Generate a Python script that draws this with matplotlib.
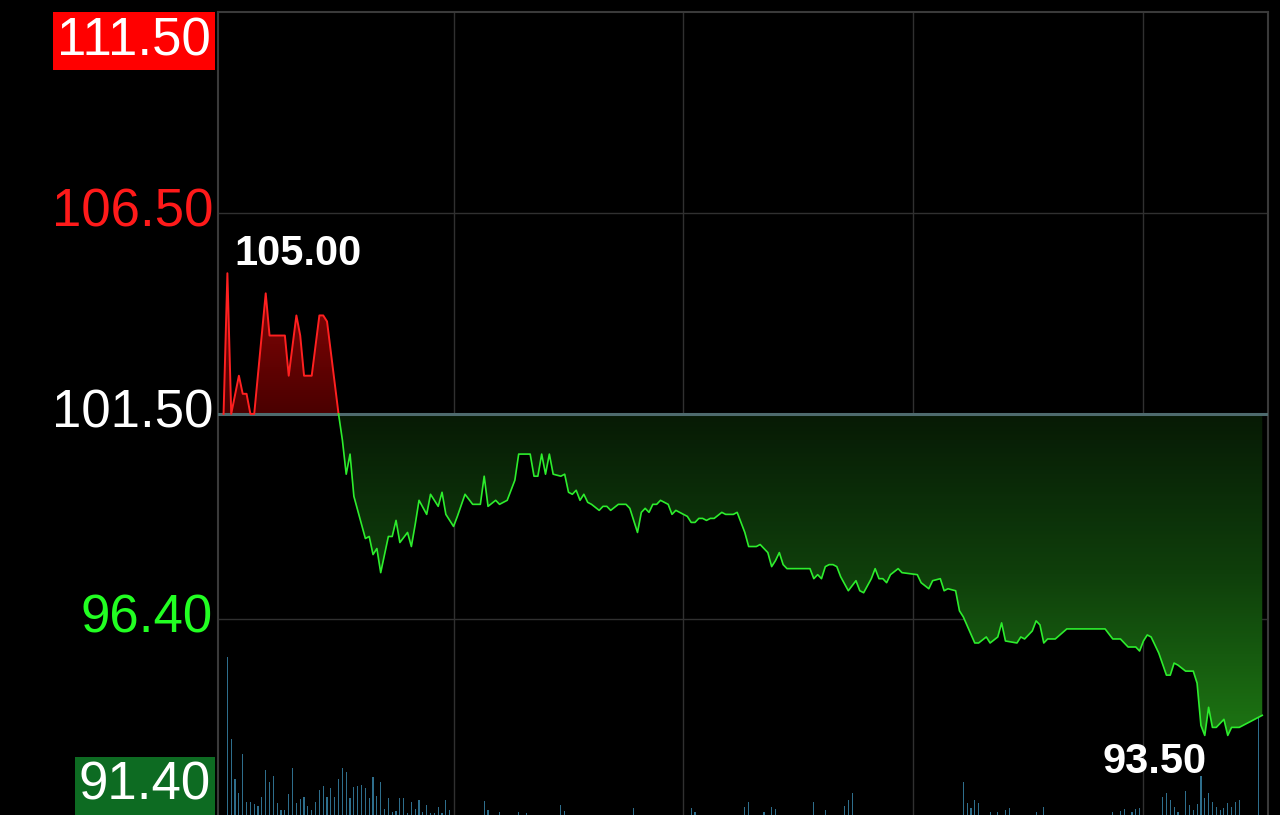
import numpy as np
import matplotlib.pyplot as plt
from matplotlib.colors import LinearSegmentedColormap
from matplotlib.path import Path
from matplotlib.transforms import blended_transform_factory

plt.rcParams['font.family'] = ['Liberation Sans', 'DejaVu Sans']

##########################
# Data
##########################

prev_close = 101.50
axis_values = [111.50, 106.50, 101.50, 96.40, 91.40]
axis_texts = ['111.50', '106.50', '101.50', '96.40', '91.40']

# minutes after the open and the price at each turning point of the line
minutes = [0, 1, 2, 4, 5, 6, 7, 8, 11, 12, 16, 17, 19, 20, 21, 23, 25, 26, 27, 30,
           31, 32, 33, 34, 35, 37, 38, 39, 40, 41, 42, 43, 44, 45, 46, 48, 49, 50,
           51, 53, 54, 56, 57, 58, 60, 61, 63, 65, 67, 68, 69, 71, 72, 74, 76, 77,
           80, 81, 82, 83, 84, 85, 86, 88, 89, 90, 91, 92, 93, 94, 95, 96, 98, 99,
           100, 101, 103, 105, 106, 107, 108, 109, 110, 111, 112, 113, 114, 115,
           116, 117, 118, 119, 120, 121, 122, 123, 124, 125, 126, 127, 128, 130,
           131, 133, 134, 136, 137, 139, 140, 141, 142, 143, 144, 145, 146, 147,
           153, 154, 155, 156, 157, 158, 159, 160, 161, 163, 165, 166, 167, 169,
           170, 171, 172, 173, 174, 176, 177, 181, 182, 184, 185, 187, 188, 189,
           191, 192, 193, 196, 197, 199, 200, 202, 203, 204, 207, 208, 209, 211,
           212, 213, 214, 215, 217, 220, 230, 232, 234, 236, 238, 239, 240, 241,
           242, 244, 246, 247, 248, 249, 251, 253, 254, 255, 256, 257, 258, 259,
           261, 262, 263, 265, 271]
prices = [101.5, 105.0, 101.5, 102.45, 102.0, 102.0, 101.5, 101.5, 104.5, 103.45,
          103.45, 102.45, 103.95, 103.45, 102.45, 102.45, 103.95, 103.95, 103.8, 101.5,
          100.85, 100.0, 100.5, 99.45, 99.1, 98.4, 98.45, 98.0, 98.15, 97.55, 98.0,
          98.45, 98.45, 98.85, 98.3, 98.55, 98.2, 98.75, 99.35, 99.0, 99.5, 99.2,
          99.55, 99.0, 98.7, 98.95, 99.5, 99.25, 99.25, 99.95, 99.2, 99.35, 99.25,
          99.35, 99.85, 100.5, 100.5, 99.95, 99.95, 100.5, 100.0, 100.5, 100.0,
          99.95, 100.0, 99.55, 99.5, 99.6, 99.35, 99.5, 99.3, 99.25, 99.1, 99.2,
          99.2, 99.1, 99.25, 99.25, 99.15, 98.85, 98.55, 99.05, 99.15, 99.05, 99.25,
          99.25, 99.35, 99.3, 99.25, 99.0, 99.1, 99.05, 99.0, 98.95, 98.8, 98.8,
          98.9, 98.9, 98.85, 98.9, 98.9, 99.05, 99.0, 99.0, 99.05, 98.55, 98.2,
          98.2, 98.25, 98.15, 98.05, 97.7, 97.85, 98.05, 97.75, 97.65, 97.65, 97.4,
          97.5, 97.4, 97.7, 97.75, 97.75, 97.7, 97.45, 97.1, 97.35, 97.1, 97.05,
          97.4, 97.65, 97.4, 97.4, 97.3, 97.5, 97.65, 97.55, 97.5, 97.3, 97.15,
          97.35, 97.4, 97.1, 97.15, 97.1, 96.6, 96.45, 95.8, 95.8, 95.95, 95.8,
          95.95, 96.3, 95.85, 95.8, 95.95, 95.9, 96.1, 96.35, 96.25, 95.8, 95.9,
          95.9, 96.15, 96.15, 95.9, 95.9, 95.7, 95.7, 95.6, 95.85, 96.0, 95.95,
          95.55, 95.0, 95.0, 95.3, 95.25, 95.1, 95.1, 94.8, 93.75, 93.5, 94.2,
          93.7, 93.7, 93.9, 93.5, 93.7, 93.7, 94.0]

# volume per minute (only minutes with a visible bar)
vol_minutes = list(range(1, 60)) + [68, 69, 72, 77, 79, 88, 89, 107, 122, 123, 136,
                                    137, 141, 143, 144, 154, 157, 162, 163, 164, 193,
                                    194, 195, 196, 197, 200, 202, 204, 205, 212, 214,
                                    232, 234, 235, 237, 238, 239, 245, 246, 247, 248,
                                    249, 251, 252, 253, 254, 255, 256, 257, 258, 259,
                                    260, 261, 262, 263, 264, 265, 270]
volumes = [158, 76, 36, 22, 61, 13, 13, 11, 9, 18, 45, 33, 39, 12, 5, 5, 21, 47, 12,
           16, 18, 9, 5, 13, 25, 29, 18, 27, 18, 36, 47, 43, 17, 28, 29, 30, 27, 17,
           38, 19, 33, 6, 17, 3, 4, 17, 17, 2, 13, 6, 15, 3, 10, 2, 2, 8, 2, 15, 5,
           14, 5, 3, 3, 2, 10, 4, 7, 7, 3, 8, 13, 3, 8, 6, 13, 5, 9, 15, 22, 33,
           12, 7, 15, 12, 3, 3, 5, 7, 3, 8, 3, 4, 6, 3, 6, 7, 18, 22, 15, 8, 3, 24,
           10, 5, 11, 39, 17, 22, 13, 8, 5, 7, 12, 8, 13, 15, 97]

high_price = max(prices)
low_price = min(prices)

##########################
# Figure
##########################

t = np.array(minutes, dtype=float)
p = np.array(prices)

fig = plt.figure(figsize=(12.8, 8.15), dpi=100, facecolor='black')
ax = fig.add_axes([218 / 1280, 0, 1050 / 1280, 803 / 815])
ax.set_facecolor('black')

# volume bars on their own scale
vx = ax.twinx()
vx.set_ylim(0, 803)
vx.bar(vol_minutes, volumes, width=0.3, color='#2e6e8c', linewidth=0)
vx.axis('off')
ax.set_zorder(vx.get_zorder() + 1)
ax.patch.set_visible(False)


def gradient_fill(coll, colors, y0, y1):
    path = Path.make_compound_path(*coll.get_paths())
    cmap = LinearSegmentedColormap.from_list('grad', colors)
    im = ax.imshow(np.linspace(0, 1, 256).reshape(-1, 1), cmap=cmap,
                   aspect='auto', origin='lower',
                   extent=[t.min(), t.max(), y0, y1], zorder=2)
    im.set_clip_path(path, transform=ax.transData)
    coll.remove()


red = ax.fill_between(t, p, prev_close, where=p > prev_close, interpolate=True)
gradient_fill(red, ['#4a0000', '#8c0606'], prev_close, high_price)
green = ax.fill_between(t, p, prev_close, where=p < prev_close, interpolate=True)
gradient_fill(green, ['#1d7513', '#0f3f0b', '#071a05'], low_price, prev_close)

up = t <= 30
down = t >= 30
ax.plot(t[up], p[up], color='#ff2020', lw=1.4, zorder=4)
ax.plot(t[down], p[down], color='#2ded2d', lw=1.2, zorder=4)
ax.axhline(prev_close, color='#4e6b6e', lw=2.2, zorder=3)

ax.set_xlim(-1.45, 272.5)
ax.set_ylim(91.52, 111.5)
ax.set_xticks([60, 120, 180, 240])
ax.set_yticks([axis_values[1], axis_values[3]])
ax.grid(color='#303030', lw=1)
ax.tick_params(length=0, labelleft=False, labelbottom=False)
for s in ax.spines.values():
    s.set_color('#3a3a3a')
    s.set_linewidth(1.5)
ax.spines['bottom'].set_visible(False)

# price scale labels on the left
trans = blended_transform_factory(ax.transAxes, ax.transData)
lx = -5 / 1050
fs = 38
ax.text(lx - 2 / 1050, 1 - 4 / 803, axis_texts[0], transform=ax.transAxes,
        ha='right', va='top', fontsize=fs, color='white',
        bbox=dict(boxstyle='square,pad=0.08', fc='#ff0000', ec='none'))
ax.text(lx, axis_values[1], axis_texts[1], transform=trans, ha='right',
        va='center', fontsize=fs, color='#ff1a1a')
ax.text(lx, axis_values[2], axis_texts[2], transform=trans, ha='right',
        va='center', fontsize=fs, color='white')
ax.text(lx, axis_values[3], axis_texts[3], transform=trans, ha='right',
        va='center', fontsize=fs, color='#22ff22')
ax.text(lx - 2 / 1050, 4 / 803, axis_texts[4], transform=ax.transAxes,
        ha='right', va='bottom', fontsize=fs, color='white',
        bbox=dict(boxstyle='square,pad=0.08', fc='#0d6b22', ec='none'))

# day high / low
i_hi = int(np.argmax(p))
i_lo = int(np.argmin(p))
ax.annotate('%.2f' % high_price, xy=(t[i_hi], p[i_hi]), xytext=(5, 6),
            textcoords='offset points', ha='left', va='baseline',
            fontsize=30, fontweight='bold', color='white', zorder=5)
ax.annotate('%.2f' % low_price, xy=(t[i_lo], p[i_lo]), xytext=(1.5, -27),
            textcoords='offset points', ha='right', va='baseline',
            fontsize=30, fontweight='bold', color='white', zorder=5)

plt.savefig('out.png', dpi=100, facecolor='black')
plt.close()
